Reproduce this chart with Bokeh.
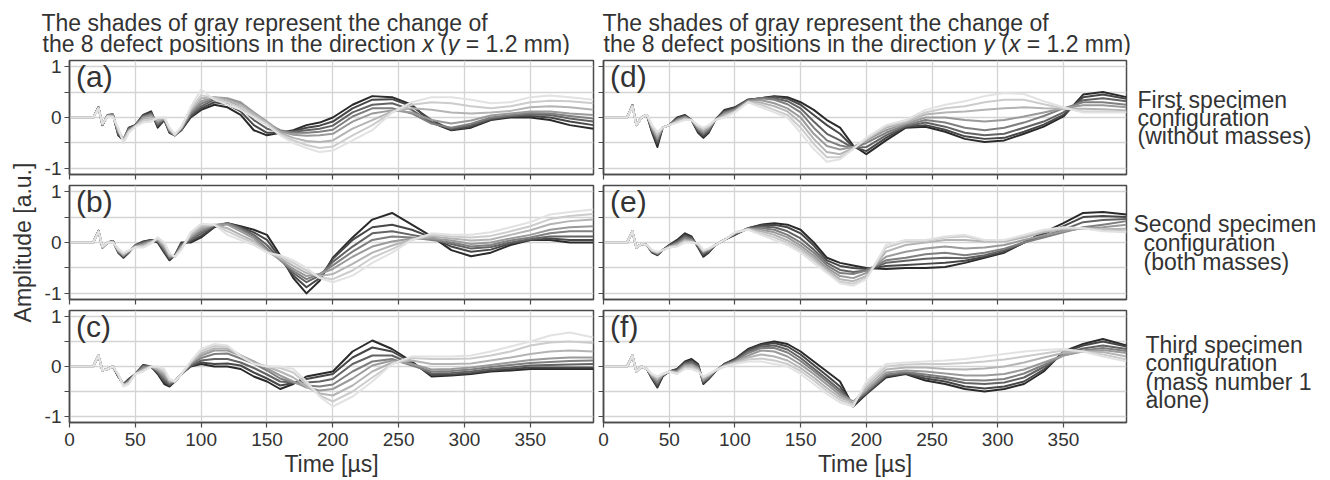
import math
from bokeh.plotting import figure
from bokeh.layouts import row, column
from bokeh.models import Range1d, FixedTicker, Label
from bokeh.embed import file_html
from bokeh.resources import INLINE

# ---------------- data ----------------
T_US = [0, 18, 22, 25, 29, 33, 37, 41, 45, 50,
        56, 62, 67, 72, 76, 80, 85, 92, 100, 110,
        120, 130, 140, 150, 160, 170, 180, 190, 200, 215,
        230, 245, 260, 275, 290, 305, 320, 335, 350, 365,
        380, 398]

# panel (a): first specimen, direction x ; shade 1 = darkest ... shade 8 = lightest
A1 = [0, 0, 0.20, -0.15, 0.05, 0.06, -0.35, -0.45, -0.20, -0.15,
      0.05, 0.12, -0.20, -0.05, -0.30, -0.35, -0.25, 0.00, 0.15, 0.25,
      0.20, 0.05, -0.25, -0.35, -0.30, -0.25, -0.15, -0.10, 0.00, 0.25,
      0.42, 0.40, 0.25, -0.10, -0.25, -0.20, -0.05, 0.00, 0.00, -0.05,
      -0.15, -0.22]
A2 = [0, 0, 0.20, -0.15, 0.05, 0.06, -0.33, -0.44, -0.21, -0.15,
      0.04, 0.10, -0.17, -0.04, -0.29, -0.35, -0.24, 0.02, 0.18, 0.30,
      0.26, 0.12, -0.15, -0.30, -0.30, -0.27, -0.20, -0.16, -0.08, 0.18,
      0.35, 0.36, 0.22, -0.05, -0.24, -0.18, -0.04, 0.02, 0.03, 0.00,
      -0.08, -0.15]
A3 = [0, 0, 0.20, -0.15, 0.04, 0.05, -0.31, -0.43, -0.22, -0.16,
      0.03, 0.08, -0.14, -0.03, -0.27, -0.35, -0.23, 0.05, 0.22, 0.35,
      0.32, 0.20, -0.05, -0.22, -0.28, -0.28, -0.25, -0.22, -0.16, 0.10,
      0.25, 0.28, 0.15, -0.10, -0.22, -0.15, -0.02, 0.03, 0.06, 0.05,
      -0.02, -0.08]
A4 = [0, 0, 0.20, -0.14, 0.04, 0.05, -0.29, -0.42, -0.24, -0.16,
      0.01, 0.06, -0.11, -0.02, -0.26, -0.35, -0.22, 0.08, 0.27, 0.38,
      0.36, 0.28, 0.05, -0.12, -0.25, -0.30, -0.30, -0.28, -0.24, 0.02,
      0.18, 0.18, 0.08, -0.12, -0.20, -0.12, 0.00, 0.05, 0.09, 0.08,
      0.03, -0.02]
A5 = [0, 0, 0.19, -0.14, 0.04, 0.04, -0.27, -0.43, -0.25, -0.17,
      0.00, 0.04, -0.08, -0.02, -0.25, -0.35, -0.21, 0.11, 0.32, 0.40,
      0.38, 0.30, 0.10, -0.08, -0.27, -0.34, -0.36, -0.35, -0.32, -0.08,
      0.08, 0.14, 0.10, -0.05, -0.12, -0.06, 0.04, 0.08, 0.12, 0.12,
      0.08, 0.05]
A6 = [0, 0, 0.19, -0.13, 0.03, 0.03, -0.25, -0.45, -0.27, -0.17,
      -0.03, 0.00, -0.05, -0.01, -0.23, -0.34, -0.20, 0.14, 0.38, 0.40,
      0.34, 0.25, 0.07, -0.10, -0.30, -0.40, -0.46, -0.48, -0.45, -0.22,
      -0.05, 0.12, 0.18, 0.15, 0.10, 0.08, 0.10, 0.13, 0.20, 0.22,
      0.20, 0.15]
A7 = [0, 0, 0.18, -0.13, 0.03, 0.02, -0.22, -0.47, -0.28, -0.18,
      -0.06, -0.04, -0.02, 0.00, -0.21, -0.34, -0.19, 0.17, 0.44, 0.38,
      0.30, 0.20, 0.03, -0.13, -0.33, -0.45, -0.54, -0.60, -0.57, -0.35,
      -0.15, 0.10, 0.25, 0.30, 0.28, 0.22, 0.18, 0.22, 0.30, 0.33,
      0.32, 0.28]
A8 = [0, 0, 0.18, -0.12, 0.02, 0.00, -0.20, -0.50, -0.30, -0.18,
      -0.10, -0.08, 0.00, 0.00, -0.20, -0.33, -0.18, 0.20, 0.55, 0.35,
      0.25, 0.15, 0.00, -0.15, -0.35, -0.50, -0.60, -0.68, -0.65, -0.45,
      -0.25, 0.10, 0.30, 0.40, 0.40, 0.35, 0.28, 0.30, 0.40, 0.43,
      0.40, 0.35]

# panel (b): second specimen, direction x
B1 = [0, 0, 0.23, -0.10, 0.00, 0.03, -0.20, -0.30, -0.20, -0.05,
      0.02, 0.05, 0.00, -0.20, -0.35, -0.25, 0.00, 0.00, 0.10, 0.30,
      0.38, 0.32, 0.25, 0.15, -0.25, -0.70, -1.00, -0.75, -0.30, 0.10,
      0.45, 0.58, 0.35, 0.12, -0.15, -0.27, -0.20, -0.05, 0.05, 0.05,
      0.00, 0.00]
B2 = [0, 0, 0.23, -0.10, 0.00, 0.03, -0.19, -0.29, -0.19, -0.06,
      0.01, 0.05, 0.01, -0.18, -0.33, -0.26, -0.02, 0.02, 0.13, 0.31,
      0.38, 0.30, 0.20, 0.05, -0.30, -0.65, -0.88, -0.70, -0.32, 0.05,
      0.30, 0.35, 0.25, 0.10, -0.08, -0.18, -0.14, -0.02, 0.05, 0.08,
      0.05, 0.05]
B3 = [0, 0, 0.23, -0.10, 0.00, 0.03, -0.18, -0.27, -0.19, -0.06,
      0.00, 0.04, 0.03, -0.15, -0.31, -0.26, -0.04, 0.05, 0.18, 0.33,
      0.38, 0.28, 0.15, -0.05, -0.33, -0.60, -0.78, -0.65, -0.38, -0.08,
      0.18, 0.22, 0.15, 0.08, -0.03, -0.12, -0.09, 0.00, 0.07, 0.12,
      0.12, 0.12]
B4 = [0, 0, 0.23, -0.10, 0.00, 0.02, -0.17, -0.26, -0.18, -0.07,
      -0.02, 0.03, 0.04, -0.12, -0.29, -0.27, -0.06, 0.08, 0.22, 0.34,
      0.38, 0.26, 0.12, -0.12, -0.35, -0.56, -0.72, -0.62, -0.45, -0.18,
      0.05, 0.12, 0.10, 0.05, 0.00, -0.08, -0.05, 0.04, 0.10, 0.18,
      0.22, 0.22]
B5 = [0, 0, 0.23, -0.10, 0.00, 0.02, -0.16, -0.25, -0.17, -0.08,
      -0.04, 0.02, 0.06, -0.10, -0.27, -0.27, -0.08, 0.11, 0.26, 0.35,
      0.35, 0.22, 0.08, -0.16, -0.34, -0.52, -0.66, -0.62, -0.52, -0.28,
      -0.08, 0.02, 0.08, 0.08, 0.04, -0.03, 0.00, 0.08, 0.15, 0.25,
      0.30, 0.32]
B6 = [0, 0, 0.22, -0.09, 0.00, 0.01, -0.15, -0.23, -0.17, -0.08,
      -0.06, 0.01, 0.07, -0.06, -0.25, -0.28, -0.10, 0.14, 0.30, 0.35,
      0.28, 0.15, 0.03, -0.18, -0.31, -0.46, -0.60, -0.66, -0.62, -0.42,
      -0.20, -0.06, 0.06, 0.12, 0.08, 0.04, 0.06, 0.15, 0.24, 0.36,
      0.42, 0.45]
B7 = [0, 0, 0.22, -0.09, 0.00, 0.00, -0.13, -0.22, -0.16, -0.09,
      -0.08, -0.01, 0.09, -0.03, -0.22, -0.28, -0.12, 0.17, 0.34, 0.35,
      0.22, 0.10, -0.01, -0.19, -0.28, -0.40, -0.55, -0.69, -0.72, -0.55,
      -0.30, -0.13, 0.05, 0.15, 0.12, 0.10, 0.13, 0.22, 0.32, 0.46,
      0.52, 0.56]
B8 = [0, 0, 0.22, -0.08, 0.00, 0.00, -0.12, -0.20, -0.15, -0.10,
      -0.10, -0.02, 0.10, 0.00, -0.20, -0.28, -0.15, 0.20, 0.37, 0.35,
      0.15, 0.05, -0.05, -0.20, -0.25, -0.35, -0.50, -0.70, -0.78, -0.65,
      -0.40, -0.20, 0.05, 0.18, 0.15, 0.15, 0.20, 0.30, 0.40, 0.55,
      0.60, 0.65]

# panel (c): third specimen, direction x
C1 = [0, 0, 0.22, -0.08, -0.05, 0.00, -0.20, -0.35, -0.25, -0.15,
      0.03, 0.00, -0.15, -0.35, -0.40, -0.30, -0.15, 0.00, 0.05, 0.00,
      0.00, -0.05, -0.20, -0.30, -0.45, -0.35, -0.20, -0.15, -0.10, 0.30,
      0.52, 0.35, 0.10, -0.20, -0.18, -0.15, -0.10, -0.08, -0.05, -0.05,
      -0.05, -0.05]
C2 = [0, 0, 0.22, -0.08, -0.05, 0.00, -0.20, -0.36, -0.26, -0.15,
      0.02, 0.00, -0.13, -0.31, -0.38, -0.30, -0.15, 0.01, 0.08, 0.05,
      0.06, 0.02, -0.12, -0.24, -0.38, -0.33, -0.25, -0.20, -0.15, 0.18,
      0.38, 0.30, 0.08, -0.17, -0.16, -0.13, -0.08, -0.05, -0.02, -0.02,
      -0.02, -0.02]
C3 = [0, 0, 0.22, -0.08, -0.05, 0.00, -0.19, -0.36, -0.27, -0.15,
      0.01, 0.00, -0.11, -0.27, -0.36, -0.30, -0.15, 0.02, 0.12, 0.15,
      0.15, 0.08, -0.03, -0.16, -0.30, -0.32, -0.32, -0.30, -0.25, 0.05,
      0.22, 0.22, 0.05, -0.14, -0.13, -0.10, -0.05, -0.02, 0.02, 0.03,
      0.04, 0.05]
C4 = [0, 0, 0.22, -0.08, -0.05, 0.00, -0.18, -0.37, -0.29, -0.15,
      -0.01, 0.00, -0.09, -0.22, -0.33, -0.30, -0.15, 0.04, 0.17, 0.25,
      0.26, 0.16, 0.06, -0.08, -0.24, -0.32, -0.38, -0.40, -0.36, -0.10,
      0.10, 0.15, 0.02, -0.10, -0.09, -0.06, -0.01, 0.03, 0.07, 0.09,
      0.11, 0.12]
C5 = [0, 0, 0.22, -0.08, -0.05, 0.00, -0.18, -0.37, -0.31, -0.15,
      -0.04, 0.00, -0.07, -0.18, -0.31, -0.30, -0.15, 0.06, 0.22, 0.32,
      0.32, 0.22, 0.10, -0.04, -0.18, -0.30, -0.42, -0.48, -0.45, -0.24,
      0.02, 0.12, 0.05, -0.06, -0.05, -0.02, 0.03, 0.08, 0.13, 0.16,
      0.18, 0.18]
C6 = [0, 0, 0.22, -0.08, -0.05, 0.00, -0.17, -0.37, -0.32, -0.15,
      -0.06, 0.00, -0.05, -0.14, -0.29, -0.30, -0.15, 0.07, 0.26, 0.36,
      0.36, 0.22, 0.08, 0.00, -0.10, -0.22, -0.40, -0.54, -0.58, -0.38,
      -0.10, 0.08, 0.12, 0.05, 0.05, 0.06, 0.12, 0.18, 0.25, 0.30,
      0.32, 0.30]
C7 = [0, 0, 0.22, -0.08, -0.05, 0.00, -0.16, -0.38, -0.34, -0.15,
      -0.08, 0.00, -0.02, -0.09, -0.27, -0.30, -0.15, 0.09, 0.31, 0.41,
      0.40, 0.22, 0.06, 0.00, -0.03, -0.12, -0.35, -0.58, -0.70, -0.50,
      -0.22, 0.05, 0.17, 0.15, 0.15, 0.16, 0.22, 0.30, 0.42, 0.48,
      0.50, 0.47]
C8 = [0, 0, 0.22, -0.08, -0.05, 0.00, -0.15, -0.40, -0.35, -0.15,
      -0.10, 0.00, 0.00, -0.05, -0.25, -0.30, -0.15, 0.10, 0.35, 0.45,
      0.42, 0.20, 0.05, 0.00, 0.00, -0.05, -0.30, -0.60, -0.80, -0.60,
      -0.30, 0.05, 0.20, 0.20, 0.20, 0.22, 0.30, 0.40, 0.50, 0.62,
      0.68, 0.58]

# panel (d): first specimen, direction y
D1 = [0, 0, 0.24, -0.15, 0.00, 0.05, -0.30, -0.58, -0.20, -0.15,
      0.00, 0.05, -0.05, -0.30, -0.40, -0.30, -0.05, 0.15, 0.20, 0.35,
      0.38, 0.42, 0.40, 0.30, 0.15, -0.05, -0.20, -0.55, -0.72, -0.45,
      -0.20, -0.18, -0.28, -0.42, -0.48, -0.45, -0.32, -0.18, 0.02, 0.45,
      0.50, 0.40]
D2 = [0, 0, 0.24, -0.15, 0.00, 0.05, -0.28, -0.52, -0.20, -0.15,
      -0.01, 0.04, -0.05, -0.28, -0.37, -0.28, -0.05, 0.13, 0.19, 0.35,
      0.38, 0.41, 0.37, 0.25, 0.05, -0.15, -0.32, -0.58, -0.66, -0.40,
      -0.18, -0.15, -0.24, -0.37, -0.42, -0.40, -0.28, -0.14, 0.05, 0.40,
      0.45, 0.37]
D3 = [0, 0, 0.24, -0.15, 0.00, 0.05, -0.25, -0.47, -0.20, -0.15,
      -0.03, 0.02, -0.05, -0.25, -0.34, -0.26, -0.05, 0.11, 0.17, 0.34,
      0.38, 0.38, 0.32, 0.18, -0.08, -0.32, -0.45, -0.60, -0.58, -0.35,
      -0.17, -0.10, -0.18, -0.30, -0.35, -0.32, -0.20, -0.08, 0.10, 0.34,
      0.38, 0.32]
D4 = [0, 0, 0.24, -0.15, 0.00, 0.05, -0.23, -0.43, -0.20, -0.15,
      -0.04, 0.01, -0.05, -0.23, -0.31, -0.23, -0.05, 0.09, 0.16, 0.33,
      0.38, 0.35, 0.26, 0.10, -0.20, -0.45, -0.55, -0.60, -0.50, -0.30,
      -0.15, -0.05, -0.10, -0.20, -0.25, -0.20, -0.10, 0.03, 0.18, 0.30,
      0.30, 0.25]
D5 = [0, 0, 0.23, -0.15, 0.00, 0.05, -0.21, -0.40, -0.20, -0.15,
      -0.06, -0.01, -0.05, -0.21, -0.28, -0.21, -0.05, 0.07, 0.14, 0.32,
      0.34, 0.28, 0.18, 0.00, -0.32, -0.56, -0.63, -0.58, -0.45, -0.25,
      -0.12, 0.00, 0.00, -0.05, -0.08, -0.05, 0.02, 0.10, 0.18, 0.24,
      0.24, 0.20]
D6 = [0, 0, 0.23, -0.15, 0.00, 0.05, -0.19, -0.36, -0.20, -0.15,
      -0.07, -0.02, -0.05, -0.19, -0.25, -0.19, -0.05, 0.04, 0.12, 0.31,
      0.29, 0.22, 0.12, -0.10, -0.42, -0.68, -0.72, -0.60, -0.43, -0.20,
      -0.10, 0.06, 0.10, 0.12, 0.15, 0.18, 0.20, 0.18, 0.17, 0.17,
      0.16, 0.14]
D7 = [0, 0, 0.22, -0.15, 0.00, 0.05, -0.17, -0.32, -0.20, -0.15,
      -0.09, -0.04, -0.05, -0.17, -0.22, -0.17, -0.05, 0.02, 0.11, 0.30,
      0.25, 0.15, 0.05, -0.20, -0.52, -0.78, -0.78, -0.62, -0.42, -0.17,
      -0.07, 0.10, 0.18, 0.22, 0.30, 0.35, 0.35, 0.26, 0.18, 0.12,
      0.12, 0.11]
D8 = [0, 0, 0.22, -0.15, 0.00, 0.05, -0.15, -0.28, -0.20, -0.15,
      -0.10, -0.05, -0.05, -0.15, -0.20, -0.15, -0.05, 0.00, 0.10, 0.30,
      0.20, 0.10, 0.00, -0.30, -0.62, -0.87, -0.82, -0.62, -0.40, -0.15,
      -0.05, 0.15, 0.25, 0.32, 0.42, 0.48, 0.46, 0.32, 0.20, 0.10,
      0.10, 0.10]

# panel (e): second specimen, direction y
E1 = [0, 0, 0.22, -0.10, -0.03, -0.05, -0.20, -0.25, -0.15, -0.05,
      0.05, 0.18, 0.12, -0.10, -0.28, -0.20, -0.05, 0.05, 0.15, 0.28,
      0.35, 0.38, 0.35, 0.25, 0.00, -0.30, -0.40, -0.45, -0.50, -0.52,
      -0.50, -0.50, -0.48, -0.40, -0.30, -0.20, 0.00, 0.20, 0.38, 0.58,
      0.60, 0.55]
E2 = [0, 0, 0.22, -0.10, -0.03, -0.05, -0.19, -0.24, -0.15, -0.06,
      0.03, 0.15, 0.10, -0.09, -0.25, -0.19, -0.05, 0.05, 0.16, 0.28,
      0.34, 0.35, 0.30, 0.18, -0.06, -0.35, -0.46, -0.50, -0.52, -0.46,
      -0.44, -0.42, -0.40, -0.36, -0.28, -0.18, 0.00, 0.17, 0.32, 0.50,
      0.52, 0.50]
E3 = [0, 0, 0.22, -0.10, -0.03, -0.05, -0.18, -0.23, -0.15, -0.07,
      0.01, 0.12, 0.08, -0.07, -0.22, -0.17, -0.05, 0.05, 0.17, 0.27,
      0.31, 0.30, 0.22, 0.08, -0.14, -0.40, -0.54, -0.58, -0.55, -0.40,
      -0.36, -0.32, -0.30, -0.31, -0.25, -0.15, 0.00, 0.13, 0.25, 0.40,
      0.44, 0.46]
E4 = [0, 0, 0.22, -0.10, -0.03, -0.05, -0.17, -0.22, -0.15, -0.08,
      -0.01, 0.09, 0.06, -0.06, -0.20, -0.15, -0.05, 0.05, 0.18, 0.27,
      0.28, 0.25, 0.15, 0.00, -0.20, -0.45, -0.60, -0.62, -0.55, -0.35,
      -0.30, -0.23, -0.20, -0.25, -0.20, -0.12, 0.00, 0.10, 0.20, 0.30,
      0.35, 0.42]
E5 = [0, 0, 0.22, -0.10, -0.03, -0.05, -0.17, -0.21, -0.15, -0.08,
      -0.03, 0.06, 0.04, -0.05, -0.18, -0.14, -0.05, 0.05, 0.18, 0.27,
      0.25, 0.20, 0.10, -0.06, -0.26, -0.50, -0.66, -0.70, -0.60, -0.28,
      -0.18, -0.12, -0.08, -0.12, -0.10, -0.05, 0.05, 0.14, 0.22, 0.28,
      0.30, 0.35]
E6 = [0, 0, 0.22, -0.10, -0.03, -0.05, -0.16, -0.20, -0.15, -0.09,
      -0.05, 0.04, 0.02, -0.04, -0.17, -0.13, -0.05, 0.05, 0.19, 0.26,
      0.22, 0.15, 0.04, -0.11, -0.31, -0.54, -0.72, -0.76, -0.66, -0.18,
      -0.05, 0.00, 0.05, 0.05, 0.02, 0.02, 0.10, 0.20, 0.26, 0.28,
      0.26, 0.27]
E7 = [0, 0, 0.22, -0.10, -0.03, -0.05, -0.15, -0.19, -0.15, -0.10,
      -0.07, 0.02, 0.01, -0.03, -0.16, -0.12, -0.05, 0.05, 0.20, 0.26,
      0.18, 0.10, -0.01, -0.16, -0.36, -0.57, -0.77, -0.81, -0.70, -0.10,
      0.02, 0.03, 0.10, 0.12, 0.04, 0.04, 0.13, 0.23, 0.28, 0.28,
      0.24, 0.22]
E8 = [0, 0, 0.22, -0.10, -0.03, -0.05, -0.15, -0.18, -0.15, -0.10,
      -0.08, 0.00, 0.00, -0.02, -0.15, -0.12, -0.05, 0.05, 0.20, 0.25,
      0.15, 0.05, -0.05, -0.20, -0.40, -0.60, -0.80, -0.85, -0.72, -0.05,
      0.05, 0.05, 0.12, 0.15, 0.05, 0.05, 0.15, 0.25, 0.30, 0.28,
      0.22, 0.20]

# panel (f): third specimen, direction y
F1 = [0, 0, 0.22, -0.10, 0.00, -0.05, -0.25, -0.42, -0.20, -0.10,
      -0.05, 0.10, 0.15, 0.05, -0.35, -0.25, -0.10, 0.05, 0.15, 0.35,
      0.45, 0.50, 0.45, 0.30, 0.10, -0.10, -0.30, -0.80, -0.55, -0.22,
      -0.15, -0.28, -0.35, -0.45, -0.50, -0.45, -0.35, -0.10, 0.30, 0.45,
      0.55, 0.42]
F2 = [0, 0, 0.22, -0.10, 0.00, -0.05, -0.24, -0.39, -0.19, -0.10,
      -0.06, 0.08, 0.12, 0.03, -0.33, -0.24, -0.10, 0.05, 0.14, 0.33,
      0.43, 0.47, 0.40, 0.24, 0.03, -0.18, -0.40, -0.78, -0.55, -0.20,
      -0.14, -0.24, -0.30, -0.40, -0.44, -0.40, -0.30, -0.06, 0.28, 0.42,
      0.50, 0.40]
F3 = [0, 0, 0.22, -0.10, 0.00, -0.05, -0.22, -0.35, -0.18, -0.10,
      -0.08, 0.06, 0.09, 0.01, -0.31, -0.22, -0.09, 0.04, 0.12, 0.30,
      0.40, 0.42, 0.34, 0.17, -0.04, -0.25, -0.47, -0.74, -0.52, -0.18,
      -0.12, -0.20, -0.25, -0.33, -0.35, -0.32, -0.22, -0.01, 0.25, 0.36,
      0.42, 0.35]
F4 = [0, 0, 0.22, -0.10, 0.00, -0.05, -0.21, -0.32, -0.17, -0.10,
      -0.09, 0.04, 0.06, -0.02, -0.29, -0.21, -0.09, 0.03, 0.11, 0.27,
      0.37, 0.37, 0.28, 0.11, -0.09, -0.30, -0.52, -0.71, -0.50, -0.16,
      -0.11, -0.16, -0.21, -0.27, -0.28, -0.25, -0.14, 0.03, 0.22, 0.32,
      0.37, 0.31]
F5 = [0, 0, 0.22, -0.10, 0.00, -0.05, -0.19, -0.28, -0.17, -0.10,
      -0.11, 0.02, 0.03, -0.04, -0.27, -0.19, -0.09, 0.02, 0.09, 0.22,
      0.32, 0.30, 0.20, 0.04, -0.15, -0.36, -0.57, -0.70, -0.47, -0.12,
      -0.08, -0.10, -0.14, -0.18, -0.18, -0.15, -0.06, 0.08, 0.22, 0.30,
      0.33, 0.27]
F6 = [0, 0, 0.22, -0.10, 0.00, -0.05, -0.18, -0.25, -0.16, -0.10,
      -0.12, 0.00, 0.01, -0.06, -0.24, -0.18, -0.08, 0.01, 0.08, 0.18,
      0.24, 0.20, 0.12, -0.03, -0.22, -0.43, -0.62, -0.72, -0.42, -0.06,
      -0.02, -0.02, -0.05, -0.06, -0.04, 0.00, 0.08, 0.18, 0.27, 0.30,
      0.29, 0.20]
F7 = [0, 0, 0.22, -0.10, 0.00, -0.05, -0.16, -0.22, -0.15, -0.10,
      -0.14, -0.03, -0.03, -0.08, -0.22, -0.16, -0.08, 0.00, 0.06, 0.14,
      0.16, 0.12, 0.05, -0.09, -0.28, -0.49, -0.67, -0.76, -0.36, 0.00,
      0.04, 0.05, 0.05, 0.07, 0.10, 0.14, 0.20, 0.26, 0.32, 0.30,
      0.24, 0.14]
F8 = [0, 0, 0.22, -0.10, 0.00, -0.05, -0.15, -0.20, -0.15, -0.10,
      -0.15, -0.05, -0.05, -0.10, -0.20, -0.15, -0.08, 0.00, 0.05, 0.10,
      0.10, 0.05, 0.00, -0.15, -0.35, -0.55, -0.72, -0.80, -0.30, 0.05,
      0.08, 0.10, 0.12, 0.15, 0.20, 0.25, 0.30, 0.33, 0.35, 0.30,
      0.20, 0.10]

X_TICKS = [0, 50, 100, 150, 200, 250, 300, 350]
Y_TICKS = [-1, 0, 1]
Y_TICK_TEXT = {-1: "-1", 0: "0", 1: "1"}
Y_MINOR = [-0.5, 0.5]
PANEL_TAGS = ["(a)", "(b)", "(c)", "(d)", "(e)", "(f)"]
SIDE_LABELS = [["First specimen", "configuration", "(without masses)"],
               ["Second specimen", "configuration", "(both masses)"],
               ["Third specimen", "configuration", "(mass number 1", "alone)"]]

# ---------------- styles ----------------
FONT = "Liberation Sans"
TXT = "#333333"
FRAME = "#4a4a4a"
GRID = "#d4d4d4"
SHADES = ["#2a2a2a", "#474747", "#636363", "#7f7f7f",
          "#9a9a9a", "#b4b4b4", "#cccccc", "#e2e2e2"]

# Arial / Liberation Sans advance widths (1/1000 em) for text placement
CW = {' ': 278, '(': 333, ')': 333, '=': 584, '.': 278, '[': 278, ']': 278,
      'a': 556, 'b': 556, 'c': 500, 'd': 556, 'e': 556, 'f': 278, 'g': 556,
      'h': 556, 'i': 222, 'j': 222, 'k': 500, 'l': 222, 'm': 833, 'n': 556,
      'o': 556, 'p': 556, 'q': 556, 'r': 333, 's': 500, 't': 278, 'u': 556,
      'v': 500, 'w': 722, 'x': 500, 'y': 500, 'z': 500, 'T': 611}


def tw(s, size):
    return sum(CW.get(ch, 556) for ch in s) * size / 1000.0


# ---------------- geometry (page body has no margin) ----------------
TITLE_H = 55
TOP_B = 5          # border above each frame
FRAME_H = 114
ROW_H = 125        # TOP_B + FRAME_H + 6
LAST_H = 174
YLAB_W = 38
LEFT_W = 559
RIGHT_W = 531
SIDE_W = 202
TOTAL_W = YLAB_W + LEFT_W + RIGHT_W + SIDE_W
COL_H = ROW_H * 2 + LAST_H


def make_panel(series, tag, width, height, left, right, bottom, xlabels, ylabels):
    p = figure(width=width, height=height,
               x_range=Range1d(0, 398), y_range=Range1d(-1.12, 1.12),
               output_backend="svg", toolbar_location=None,
               min_border_left=left, min_border_right=right,
               min_border_top=TOP_B, min_border_bottom=bottom)
    p.outline_line_color = FRAME
    p.outline_line_width = 1.5
    p.background_fill_color = "white"
    p.border_fill_color = "white"
    for ys, col in zip(series, SHADES):
        p.line(T_US, ys, line_color=col, line_width=2.0, line_join="round")

    p.xaxis.ticker = FixedTicker(ticks=X_TICKS)
    p.yaxis.ticker = FixedTicker(ticks=Y_TICKS, minor_ticks=Y_MINOR)
    p.xgrid.ticker = FixedTicker(ticks=X_TICKS)
    p.ygrid.ticker = FixedTicker(ticks=Y_TICKS, minor_ticks=Y_MINOR)
    for g in (p.xgrid, p.ygrid):
        g.grid_line_color = GRID
        g.grid_line_width = 1.3
    p.ygrid.minor_grid_line_color = GRID
    p.ygrid.minor_grid_line_width = 1.3

    for ax in (p.xaxis, p.yaxis):
        ax.axis_line_color = FRAME
        ax.axis_line_width = 1.5
        ax.major_tick_line_color = FRAME
        ax.major_tick_line_width = 1.2
        ax.major_tick_in = 0
        ax.major_tick_out = 5
        ax.major_label_text_font = FONT
        ax.major_label_text_color = TXT
        ax.major_label_text_font_size = "19px"
        ax.major_label_standoff = 3
    p.xaxis.major_label_standoff = 5
    p.yaxis.major_label_overrides = Y_TICK_TEXT
    p.xaxis.minor_tick_line_color = None
    p.yaxis.minor_tick_line_color = FRAME
    p.yaxis.minor_tick_line_width = 1.2
    p.yaxis.minor_tick_in = 0
    p.yaxis.minor_tick_out = 5
    if xlabels:
        p.xaxis.axis_label = "Time [µs]"
        p.xaxis.axis_label_text_font = FONT
        p.xaxis.axis_label_text_font_size = "23px"
        p.xaxis.axis_label_text_font_style = "normal"
        p.xaxis.axis_label_text_color = TXT
        p.xaxis.axis_label_standoff = 2
    else:
        p.xaxis.major_label_text_color = None
        p.xaxis.major_label_text_font_size = "1px"
        p.xaxis.major_label_standoff = 0
    if not ylabels:
        p.yaxis.major_label_text_color = None
        p.yaxis.major_label_text_font_size = "1px"
        p.yaxis.major_label_standoff = 0

    p.add_layout(Label(x=5, y=0.80, text=tag, text_font=FONT, text_font_size="30px",
                       text_color=TXT, text_align="left", text_baseline="middle"))
    return p


def blank(width, height):
    f = figure(width=width, height=height, x_range=Range1d(0, width),
               y_range=Range1d(height, 0), output_backend="svg",
               toolbar_location=None, min_border=0,
               x_axis_type=None, y_axis_type=None)
    f.outline_line_color = None
    f.grid.visible = False
    f.background_fill_color = "white"
    f.border_fill_color = "white"
    return f


def put(fig, x, y, text, size, style="normal", align="left", angle=0.0):
    fig.add_layout(Label(x=x, y=y, text=text, text_font=FONT, text_font_size=f"{size}px",
                         text_font_style=style, text_color=TXT, text_align=align,
                         text_baseline="middle", angle=angle))


left_series = [[A1, A2, A3, A4, A5, A6, A7, A8],
               [B1, B2, B3, B4, B5, B6, B7, B8],
               [C1, C2, C3, C4, C5, C6, C7, C8]]
right_series = [[D1, D2, D3, D4, D5, D6, D7, D8],
                [E1, E2, E3, E4, E5, E6, E7, E8],
                [F1, F2, F3, F4, F5, F6, F7, F8]]

left_panels, right_panels = [], []
for i in range(3):
    last = (i == 2)
    h = LAST_H if last else ROW_H
    b = h - TOP_B - FRAME_H
    left_panels.append(make_panel(left_series[i], PANEL_TAGS[i], LEFT_W, h,
                                  31, 4, b, last, True))
    right_panels.append(make_panel(right_series[i], PANEL_TAGS[i + 3], RIGHT_W, h,
                                   6, 2, b, last, False))

# title strip (two lines per column, italic variable names)
title = blank(TOTAL_W, TITLE_H)
TS = 23
for x0, d1, d2 in ((41, "x", "y"), (602, "y", "x")):
    put(title, x0, 22, "The shades of gray represent the change of", TS)
    segs = [("the 8 defect positions in the direction", "normal"), (d1, "italic"),
            ("(", "normal"), (d2, "italic"), ("= 1.2 mm)", "normal")]
    gaps = [tw(" ", TS), tw(" ", TS), 0.0, tw(" ", TS), 0.0]
    xx = x0 + 1
    for (s, st), g in zip(segs, gaps):
        put(title, xx, 43, s, TS, style=st)
        xx += tw(s, TS) + g

# y-axis label strip
ylab = blank(YLAB_W, COL_H)
put(ylab, 22, 242 - TITLE_H, "Amplitude [a.u.]", 23, align="center", angle=math.pi / 2)

# side labels strip (x, page-y positions of each line)
side = blank(SIDE_W, COL_H)
side_pos = [[(9, 99), (9, 117), (9, 135)],
            [(5, 223), (15, 242), (15, 261)],
            [(17, 344), (17, 362.5), (17, 381), (17, 399.5)]]
for pos, lines in zip(side_pos, SIDE_LABELS):
    for (sx, sy), txt in zip(pos, lines):
        put(side, sx, sy - TITLE_H, txt, 23)

layout = column(title,
                row(ylab, column(*left_panels), column(*right_panels), side))

open("out.html", "w").write(file_html(layout, INLINE))
